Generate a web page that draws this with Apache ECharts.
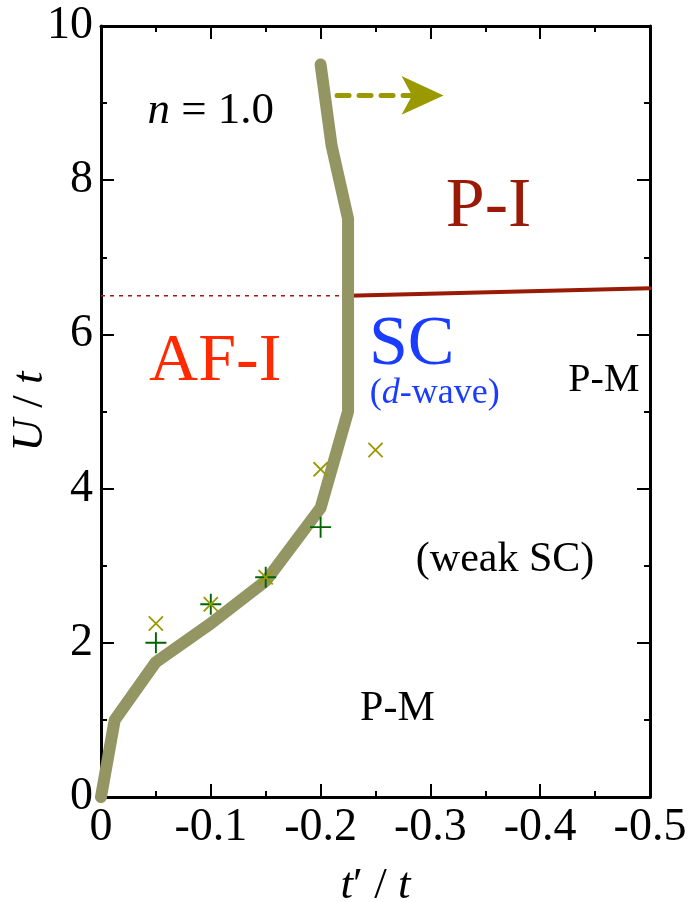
<!DOCTYPE html>
<html><head><meta charset="utf-8">
<script src="https://cdn.jsdelivr.net/npm/echarts@6/dist/echarts.min.js"></script>
<style>html,body{margin:0;padding:0;background:#fff}#c{width:688px;height:902px}</style>
</head><body><div id="c"></div>
<script>
// ---- data ----
const boundaryX = [0, -0.0125, -0.05, -0.1, -0.15, -0.2, -0.225, -0.225, -0.21, -0.2];
const boundaryU = [0, 1.0, 1.75, 2.25, 2.8, 3.75, 5.0, 7.5, 8.45, 9.5];
const mitX = [-0.225, -0.5];
const mitU = [6.5, 6.6];
const dotX = [0, -0.225];
const dotU = [6.5, 6.5];
const plusX = [-0.05, -0.1, -0.15, -0.2];
const plusU = [2.0, 2.5, 2.85, 3.5];
const crossX = [-0.05, -0.1, -0.15, -0.2, -0.25];
const crossU = [2.25, 2.5, 2.85, 4.25, 4.5];
const arrowX = [-0.215, -0.312];
const arrowU = [9.1, 9.1];
const xTickValues = [0, -0.1, -0.2, -0.3, -0.4, -0.5];
const xTickLabels = ['0', '-0.1', '-0.2', '-0.3', '-0.4', '-0.5'];
const yTickValues = [0, 2, 4, 6, 8, 10];
const yTickLabels = ['0', '2', '4', '6', '8', '10'];
const regionNames = ['n = 1.0', 'P-I', 'AF-I', 'SC', '(d-wave)', 'P-M', '(weak SC)', 'P-M'];
const regionX = [-0.100, -0.353, -0.104, -0.283, -0.304, -0.458, -0.368, -0.270];
const regionU = [8.90, 7.64, 5.64, 5.85, 5.23, 5.40, 3.07, 1.14];

// ---- styles ----
const FONT = "'Liberation Serif','Times New Roman',serif";
const regionStyle = [
  {color:'#000', fontSize:45, formatter:'{i|n}{r| = 1.0}'},
  {color:'#9a1a08', fontSize:70},
  {color:'#ff2a00', fontSize:68},
  {color:'#1a3cff', fontSize:70},
  {color:'#1a3cff', fontSize:36, formatter:'{p|(}{ib|d}{p|-wave)}'},
  {color:'#000', fontSize:40},
  {color:'#000', fontSize:42},
  {color:'#000', fontSize:42}
];
const zip = (a, b) => a.map((v, i) => [v, b[i]]);
const plusPath = 'path://M-1,-0.09L1,-0.09L1,0.09L-1,0.09Z M-0.09,-1L0.09,-1L0.09,1L-0.09,1Z';

const labelData = regionNames.map((n, i) => {
  const s = regionStyle[i];
  const lab = {show:true, position:'inside', align:'center', verticalAlign:'middle',
    fontFamily:FONT, color:s.color, fontSize:s.fontSize,
    formatter: s.formatter || n,
    rich:{
      i:{fontStyle:'italic', fontFamily:FONT, fontSize:s.fontSize, color:s.color},
      r:{fontFamily:FONT, fontSize:s.fontSize, color:s.color},
      ib:{fontStyle:'italic', fontFamily:FONT, fontSize:s.fontSize, color:s.color},
      p:{fontFamily:FONT, fontSize:s.fontSize, color:s.color}
    }};
  return {name:n, value:[regionX[i], regionU[i]], label:lab};
});

const axisLine = {show:true, onZero:false, lineStyle:{color:'#000', width:3}};
const axisTick = {show:true, inside:true, length:13, lineStyle:{color:'#000', width:2}};
const minorTick = {show:true, splitNumber:2, length:6, lineStyle:{color:'#000', width:2}};
const tickFmtX = v => { const k = xTickValues.findIndex(t => Math.abs(t - v) < 1e-6); return k >= 0 ? xTickLabels[k] : ''; };
const tickFmtY = v => { const k = yTickValues.findIndex(t => Math.abs(t - v) < 1e-6); return k >= 0 ? yTickLabels[k] : ''; };

const chart = echarts.init(document.getElementById('c'), null, {renderer:'canvas'});
chart.setOption({
  backgroundColor:'#fff',
  animation:false,
  grid:{left:101, right:38, top:26, bottom:105, containLabel:false, outerBoundsMode:'none'},
  xAxis:[
    {type:'value', min:-0.5, max:0, interval:0.1, inverse:true, position:'bottom',
     axisLine, axisTick, minorTick, splitLine:{show:false},
     axisLabel:{show:true, color:'#000', fontFamily:FONT, fontSize:46, margin:8, formatter:tickFmtX},
     name:'{i|t}{r|′ / }{i|t}', nameLocation:'middle', nameGap:67, nameMoveOverlap:false,
     nameTextStyle:{fontFamily:FONT, fontSize:45, color:'#000',
       rich:{i:{fontStyle:'italic', fontFamily:FONT, fontSize:45, color:'#000'},
             r:{fontFamily:FONT, fontSize:45, color:'#000'}}}},
    {type:'value', min:-0.5, max:0, interval:0.1, inverse:true, position:'top',
     axisLine, axisTick, minorTick, splitLine:{show:false}, axisLabel:{show:false}}
  ],
  yAxis:[
    {type:'value', min:0, max:10, interval:2, position:'left',
     axisLine, axisTick, minorTick, splitLine:{show:false},
     axisLabel:{show:true, color:'#000', fontFamily:FONT, fontSize:46, margin:8, formatter:tickFmtY},
     name:'{i|U}{r| / }{i|t}', nameLocation:'middle', nameGap:48, nameRotate:90, nameMoveOverlap:false,
     nameTextStyle:{fontFamily:FONT, fontSize:45, color:'#000',
       rich:{i:{fontStyle:'italic', fontFamily:FONT, fontSize:45, color:'#000'},
             r:{fontFamily:FONT, fontSize:45, color:'#000'}}}},
    {type:'value', min:0, max:10, interval:2, position:'right',
     axisLine, axisTick, minorTick, splitLine:{show:false}, axisLabel:{show:false}}
  ],
  series:[
    {type:'line', data:zip(dotX, dotU), symbol:'none', z:2,
     lineStyle:{color:'#a01a10', width:1.5, type:[4,5]}},
    {type:'line', data:zip(mitX, mitU), symbol:'none', z:3,
     lineStyle:{color:'#9a1a08', width:4, cap:'round'}},
    {type:'line', data:zip(boundaryX, boundaryU), symbol:'none', z:4,
     lineStyle:{color:'#939563', width:12, cap:'round', join:'round'}},
    {type:'line', data:[], symbol:'none', z:5,
     markLine:{silent:true, symbol:['none','arrow'], symbolSize:[29,42], label:{show:false},
       lineStyle:{color:'#9a9a00', width:5, type:[12,10], cap:'round'},
       data:[[{coord:[arrowX[0], arrowU[0]]}, {coord:[arrowX[1], arrowU[1]]}]]}},
    {type:'scatter', data:zip(plusX, plusU), symbol:plusPath, symbolSize:21, z:6,
     itemStyle:{color:'#006400', opacity:1}},
    {type:'scatter', data:zip(crossX, crossU), symbol:plusPath, symbolSize:20, symbolRotate:45, z:7,
     itemStyle:{color:'#999900', opacity:1}},
    {type:'scatter', data:labelData, symbolSize:1, z:8, itemStyle:{color:'rgba(0,0,0,0)', opacity:1}}
  ]
});
</script>
</body></html>
